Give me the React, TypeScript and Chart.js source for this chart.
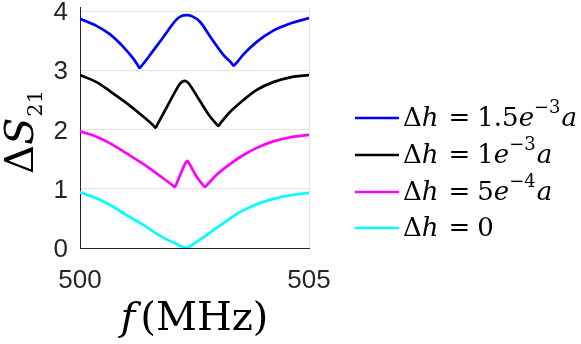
import { useEffect, useRef } from "react";
import { Chart, registerables } from "chart.js";

Chart.register(...registerables);

// Frequencies (MHz) and ΔS21 values
const freqA = [500.0, 500.36, 500.65, 500.94, 501.16, 501.25, 501.3, 501.35, 501.52, 501.81, 502.1, 502.2, 502.33, 502.45, 502.62, 502.84, 503.13, 503.3, 503.35, 503.4, 503.57, 503.86, 504.22, 504.59, 505.0];
const valA = [3.87, 3.75, 3.61, 3.4, 3.2, 3.1, 3.04, 3.08, 3.25, 3.55, 3.85, 3.91, 3.93, 3.91, 3.82, 3.57, 3.26, 3.13, 3.08, 3.11, 3.27, 3.48, 3.67, 3.79, 3.88];

const freqB = [500.0, 500.36, 500.65, 501.01, 501.38, 501.6, 501.65, 501.7, 501.89, 502.1, 502.18, 502.28, 502.36, 502.41, 502.62, 502.84, 502.97, 503.02, 503.07, 503.28, 503.57, 503.86, 504.22, 504.59, 505.0];
const valB = [2.92, 2.8, 2.65, 2.45, 2.22, 2.07, 2.03, 2.1, 2.37, 2.67, 2.77, 2.82, 2.79, 2.74, 2.48, 2.22, 2.1, 2.06, 2.11, 2.3, 2.5, 2.67, 2.8, 2.88, 2.92];

const freqC = [500.0, 500.36, 500.65, 501.01, 501.38, 501.74, 502.02, 502.07, 502.12, 502.3, 502.34, 502.38, 502.55, 502.68, 502.73, 502.78, 502.99, 503.28, 503.57, 503.86, 504.22, 504.59, 505.0];
const valC = [1.97, 1.88, 1.77, 1.6, 1.42, 1.22, 1.06, 1.03, 1.11, 1.43, 1.47, 1.43, 1.2, 1.07, 1.03, 1.07, 1.24, 1.42, 1.57, 1.69, 1.8, 1.87, 1.91];

const freqD = [500.0, 500.36, 500.65, 501.01, 501.38, 501.74, 502.1, 502.35, 502.41, 502.77, 503.13, 503.5, 503.86, 504.22, 504.59, 505.0];
const valD = [0.94, 0.84, 0.73, 0.56, 0.39, 0.21, 0.07, 0.0, 0.03, 0.22, 0.42, 0.61, 0.74, 0.83, 0.89, 0.93];

const seriesColors = ["#0000ff", "#000000", "#ff00ff", "#00ffff"];
const legendMantissa = ["1.5", "1", "5", ""];
const legendExponent = ["−3", "−3", "−4", ""];

const xTicks = [500, 505];
const yTicks = [0, 1, 2, 3, 4];

const SERIF = '"DejaVu Serif", "Liberation Serif", serif';

type Run = { t?: string; it?: boolean; size?: number; dy?: number; gap?: number };

function drawRuns(c: CanvasRenderingContext2D, runs: Run[], x: number, y: number, base: number, draw = true): number {
  let cx = x;
  for (const r of runs) {
    if (r.gap) {
      cx += r.gap;
      continue;
    }
    const size = r.size ?? base;
    c.font = `${r.it ? "italic " : ""}${size}px ${SERIF}`;
    if (draw) c.fillText(r.t || "", cx, y + (r.dy ?? 0));
    cx += c.measureText(r.t || "").width;
  }
  return cx - x;
}

const labelsPlugin = {
  id: "labels",
  afterDraw(chart: any) {
    const c: CanvasRenderingContext2D = chart.ctx;
    const area = chart.chartArea;
    c.save();
    c.fillStyle = "#000";
    c.textBaseline = "alphabetic";
    c.textAlign = "left";

    // Legend
    const rowY = [118, 155, 192, 228];
    for (let i = 0; i < 4; i++) {
      const y = rowY[i];
      c.strokeStyle = seriesColors[i];
      c.lineWidth = 2.6;
      c.beginPath();
      c.moveTo(355, y);
      c.lineTo(399, y);
      c.stroke();
      const runs: Run[] = [{ t: "Δ" }, { t: "h", it: true }, { gap: 10 }, { t: "=" }, { gap: 7 }];
      if (legendMantissa[i]) {
        runs.push({ t: legendMantissa[i] }, { t: "e", it: true }, { t: legendExponent[i], size: 18, dy: -13 }, { gap: 1 }, { t: "a", it: true });
      } else {
        runs.push({ t: "0" });
      }
      drawRuns(c, runs, 403, y + 8, 26);
    }

    // X axis title
    const xr: Run[] = [{ t: "f", it: true }, { gap: 5 }, { t: "(MHz)" }];
    const xw = drawRuns(c, xr, 0, 0, 40, false);
    drawRuns(c, xr, (area.left + area.right) / 2 - xw / 2, 330, 40);

    // Y axis title (rotated)
    const yr: Run[] = [{ t: "Δ" }, { t: "S", it: true }, { gap: 1 }, { t: "21", size: 21, dy: 9 }];
    const yw = drawRuns(c, yr, 0, 0, 40, false);
    c.translate(33, 132);
    c.rotate(-Math.PI / 2);
    drawRuns(c, yr, -yw / 2, 0, 40);
    c.restore();
  },
};

export default function App() {
  const ref = useRef<HTMLCanvasElement>(null);
  useEffect(() => {
    const canvas = ref.current;
    if (!canvas) return;
    const pts = (fs: number[], vs: number[]) => fs.map((f, i) => ({ x: f, y: vs[i] }));
    const series = [pts(freqA, valA), pts(freqB, valB), pts(freqC, valC), pts(freqD, valD)];
    const tickFont = { family: '"Liberation Sans", Arial, sans-serif', size: 26 };
    const chart = new Chart(canvas, {
      type: "line",
      data: {
        datasets: series.map((d, i) => ({
          data: d,
          borderColor: seriesColors[i],
          borderWidth: 2.7,
          pointRadius: 0,
          cubicInterpolationMode: "monotone" as const,
          fill: false,
          borderJoinStyle: "round" as const,
          borderCapStyle: "round" as const,
        })),
      },
      options: {
        animation: false,
        responsive: false,
        maintainAspectRatio: false,
        layout: { padding: { left: 0, top: 7.5, right: 272, bottom: 0 } },
        plugins: { legend: { display: false }, tooltip: { enabled: false } },
        scales: {
          x: {
            type: "linear",
            min: 500,
            max: 505,
            afterBuildTicks: (s: any) => {
              s.ticks = xTicks.map((v) => ({ value: v }));
            },
            afterFit: (s: any) => {
              s.height = 96;
              s.paddingLeft = 0;
              s.paddingRight = 0;
            },
            grid: {
              color: (ctx: any) => (ctx.tick && ctx.tick.value === 505 ? "#e3e3e3" : "rgba(0,0,0,0)"),
              drawTicks: false,
            },
            border: { color: "#262626", width: 1 },
            ticks: { font: tickFont, color: "#262626", padding: 17, maxRotation: 0, autoSkip: false },
          },
          y: {
            min: 0,
            max: 4.06,
            afterBuildTicks: (s: any) => {
              s.ticks = yTicks.map((v) => ({ value: v }));
            },
            afterFit: (s: any) => {
              s.width = 80;
              s.paddingTop = 0;
              s.paddingBottom = 0;
            },
            grid: {
              color: (ctx: any) => (ctx.tick && ctx.tick.value === 0 ? "rgba(0,0,0,0)" : "#e3e3e3"),
              drawTicks: false,
            },
            border: { color: "#262626", width: 1 },
            ticks: { font: tickFont, color: "#262626", padding: 12, labelOffset: 2 },
          },
        },
      },
      plugins: [labelsPlugin],
    });
    return () => chart.destroy();
  }, []);
  return (
    <div style={{ position: "fixed", left: 0, top: 0, width: 581, height: 344, background: "#fff" }}>
      <canvas ref={ref} width={581} height={344} style={{ width: 581, height: 344, display: "block" }} />
    </div>
  );
}
